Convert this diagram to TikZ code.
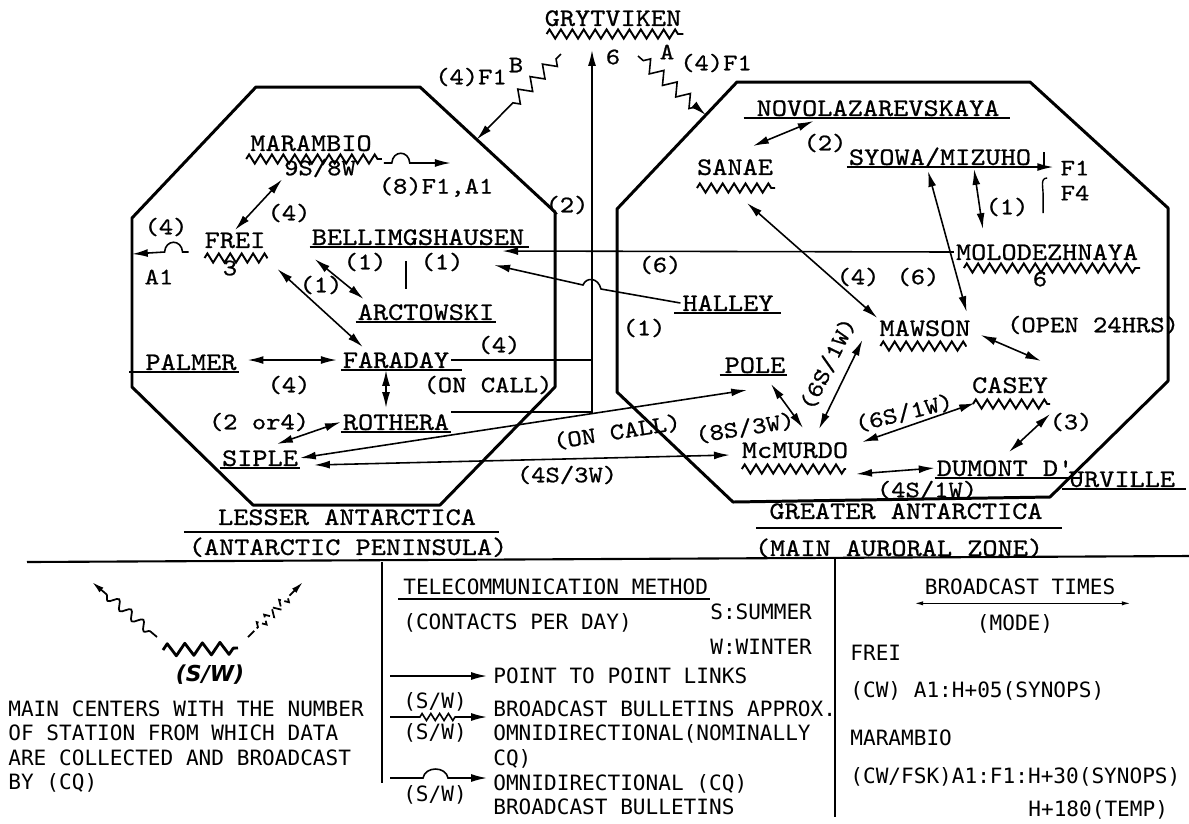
\documentclass[tikz,border=0pt]{standalone}
\usepackage{fontspec}
\setsansfont{DejaVu Sans}
\newfontfamily\typefont[FakeStretch=1.15,FakeBold=0.8]{lmmono10-regular.otf}
\newfontfamily\legfont{DejaVu Sans Mono}
\usetikzlibrary{calc,arrows.meta,decorations.pathmorphing}

\tikzset{
  station/.style={font=\typefont\fontsize{14.3}{16}\selectfont, inner sep=1pt, text height=9pt, text depth=0pt},
  lab/.style={font=\typefont\fontsize{13.5}{15}\selectfont, inner sep=1pt},
  legtext/.style={font=\legfont\fontsize{12}{14}\selectfont, inner sep=0pt, align=left},
  octa/.style={line width=1.7pt, line join=round},
  uline/.style={line width=0.8pt},
  link/.style={line width=0.9pt, -{Latex[length=9pt,width=4.5pt]}},
  dlink/.style={line width=0.9pt, {Latex[length=9pt,width=4.5pt]}-{Latex[length=9pt,width=4.5pt]}},
  zig/.style={line width=1.1pt, decorate, decoration={zigzag, segment length=6.5pt, amplitude=2.6pt}},
  bcast/.style={link, decorate, decoration={zigzag, segment length=10pt, amplitude=3.5pt, pre length=4pt, post length=28pt}},
}

\begin{document}
\begin{tikzpicture}[x=0.02cm, y=-0.02cm]
\useasboundingbox (0,0) rectangle (1189,823);

% the two regions
\coordinate (L1) at (256,87);  \coordinate (L2) at (420,87);
\coordinate (L3) at (555,212); \coordinate (L4) at (555,387);
\coordinate (L5) at (440,505); \coordinate (L6) at (253,505);
\coordinate (L7) at (132,387); \coordinate (L8) at (132,218);
\draw[octa] (L1) -- (L2) -- (L3) -- (L4) -- (L5) -- (L6) -- (L7) -- (L8) -- cycle;
\coordinate (R1) at (737,82);   \coordinate (R2) at (1030,82);
\coordinate (R3) at (1168,208); \coordinate (R4) at (1168,381);
\coordinate (R5) at (1050,497); \coordinate (R6) at (733,502);
\coordinate (R7) at (617,392);  \coordinate (R8) at (617,209);
\draw[octa] (R1) -- (R2) -- (R3) -- (R4) -- (R5) -- (R6) -- (R7) -- (R8) -- cycle;

% stations
\node[station] (gryt) at (613,18) {GRYTVIKEN};
\node[station] (mar) at (311,143) {MARAMBIO};
\node[lab] (marn) at (320,168) {9S/8W};
\node[station] (frei) at (235,240) {FREI};
\node[lab] (frein) at (230,268) {3};
\node[station] (bell) at (418,237) {BELLIMGSHAUSEN};
\node[station] (arct) at (426,312) {ARCTOWSKI};
\node[station] (palmer) at (191,362) {PALMER};
\node[station] (faraday) at (396,360) {FARADAY};
\node[station] (rothera) at (396,422) {ROTHERA};
\node[station] (siple) at (260,458) {SIPLE};
\node[station] (novo) at (878,108) {NOVOLAZAREVSKAYA};
\node[station] (sanae) at (735,167) {SANAE};
\node[station] (syowa) at (940,157) {SYOWA/MIZUHO};
\node[station] (molo) at (1047,252) {MOLODEZHNAYA};
\node[lab] (molon) at (1040,279) {6};
\node[station] (halley) at (728,303) {HALLEY};
\node[station] (mawson) at (925,328) {MAWSON};
\node[station] (pole) at (755,365) {POLE};
\node[station] (casey) at (1010,385) {CASEY};
\node[station] (mcmurdo) at (795,450) {McMURDO};
\node[station] (dumont) at (1005,468) {DUMONT D'};
\node[station] (urville) at (1122,479) {URVILLE};

% main centres
\draw[zig] ($(gryt.south west)+(4,6)$) -- ($(gryt.south east)+(0,6)$);
\draw[zig] ($(mar.south west)+(-2,6)$) -- ($(mar.south east)+(8,6)$);
\draw[zig] ($(frei.south west)+(2,8)$) -- ($(frei.south east)+(0,8)$);
\draw[zig] ($(sanae.south west)+(2,11)$) -- ($(sanae.south east)+(0,11)$);
\draw[zig] ($(molo.south west)+(10,6)$) -- ($(molo.south east)+(0,6)$);
\draw[zig] ($(mawson.south west)+(3,8)$) -- ($(mawson.south east)+(-6,8)$);
\draw[zig] ($(casey.south west)+(3,9)$) -- ($(casey.south east)+(0,9)$);
\draw[zig] ($(mcmurdo.south west)+(2,9)$) -- ($(mcmurdo.south east)+(-4,9)$);

% other stations
\draw[uline] (bell.south west) -- ($(bell.south east)+(3,0)$);
\draw[uline] (arct.south west) -- (arct.south east);
\draw[uline] ($(palmer.south west)+(-14,0)$) -- (palmer.south east);
\draw[uline] (faraday.south west) -- ($(faraday.south east)+(11,0)$);
\draw[uline] (rothera.south west) -- (rothera.south east);
\draw[uline] (siple.south west) -- (siple.south east);
\draw[line width=1.5pt] ($(novo.south west)+(-11,0)$) -- ($(novo.south east)+(9,0)$);
\draw[uline] ($(halley.south west)+(-6,0)$) -- ($(halley.south east)+(5,0)$);
\draw[uline] ($(pole.south west)+(-3,0)$) -- (pole.south east);
\draw[uline] (dumont.south west) -- ($(dumont.south east)+(6,0)$);
\draw[uline] ($(urville.south west)+(-5,0)$) -- ($(urville.south east)+(9,0)$);

% Grytviken broadcasts
\node[lab] (gryn) at (613,57) {6};
\draw[bcast] ($(gryt.south)+(-52,26)$) -- ($(L2)!0.42!(L3)$);
\draw[bcast, decoration={post length=6pt}] ($(gryt.south)+(25,28)$) -- ($(R1)!0.26!(R8)$);
\node[lab] (bmode) at (471,77) {(4)F1};
\node[lab] (bmark) at (516,65) {B};
\node[lab] (amark) at (667,52) {A};
\node[lab] (amode) at (716,63) {(4)F1};

% links to Grytviken
\coordinate (trunk) at (592,50);
\draw[link] (rothera.north east) -| (trunk);
\draw[line width=0.9pt] (faraday.east) -- (faraday.east -| trunk);
\node[lab] (trunkn) at (567,205) {(2)};
\node[lab] (farn) at (499,345) {(4)};
\node[lab] (oncall) at (488,385) {(ON CALL)};

% links to Bellingshausen
\draw[link] (molo.west) -- ($(bell.south east)+(-24,4)$);
\node[lab] (molon2) at (660,265) {(6)};
\draw[link] (halley.west) -- (601,289) .. controls (598,277) and (586,277) .. (583,285) -- ($(bell.south east)+(-32,18)$);
\node[lab] (halln) at (442,262) {(1)};
\node[lab] (belln) at (365,262) {(1)};
\draw[uline] ($(bell.south)+(-12,14)$) -- ++(0,28);
\node[lab] (halln2) at (644,328) {(1)};

% Lesser Antarctica
\draw[dlink] (marn.south west) -- (frei.north);
\node[lab] (marfn) at (289,213) {(4)};
\draw[link] ($(mar.east)+(10,20)$) -- ++(8,0) .. controls +(1,-13) and +(-1,-13) .. ++(18,0) -- ++(41,0);
\node[lab] (marbn) at (436,187) {(8)F1,A1};
\draw[link] ($(frei.west)+(-14,12)$) -- ++(-6,0) .. controls +(-1,-13) and +(1,-13) .. ++(-18,0) -- ($(L8)!0.213!(L7)$);
\node[lab] (freibn) at (166,227) {(4)};
\node[lab] (freimode) at (159,277) {A1};
\draw[dlink] ($(frei.south east)+(10,19)$) -- ($(faraday.north west)+(22,-3)$);
\draw[dlink] ($(bell.south west)+(5,12)$) -- ($(arct.north west)+(8,-3)$);
\node[lab] (arctn) at (321,285) {(1)};
\draw[dlink] ($(palmer.east)+(9,-2)$) -- ($(faraday.west)+(-4,0)$);
\node[lab] (palmn) at (289,385) {(4)};
\draw[dlink] ($(faraday.south)+(-10,0)$) -- ($(rothera.north)+(-10,-4)$);
\draw[dlink] (rothera.west) -- ($(siple.north)+(17,-4)$);
\node[lab] (rothn) at (259,422) {(2 or4)};

% Siple
\draw[dlink] (siple.east) -- ($(pole.south)+(-8,15)$);
\node[lab, rotate=9] (polecall) at (617,432) {(ON CALL)};
\draw[dlink] ($(siple.east)+(14,7)$) -- ($(mcmurdo.west)+(-10,5)$);
\node[lab] (siplen) at (567,475) {(4S/3W)};

% Greater Antarctica
\draw[dlink] ($(novo.south west)+(59,3)$) -- ($(sanae.north)+(18,-11)$);
\node[lab] (novon) at (825,143) {(2)};
\draw[link, line width=0.8pt] (syowa.south west) -- ($(syowa.south east)+(20,0)$);
\draw[uline] ($(syowa.south east)+(11,-15)$) -- ++(0,15);
\draw[uline] ($(syowa.south east)+(14,11)$) .. controls +(-7,0) and +(0,-8) .. ++(-4,17) -- ++(0,18);
\node[lab] (fone) at (1075,168) {F1};
\node[lab] (ffour) at (1075,193) {F4};
\draw[dlink] ($(syowa.south)+(34,2)$) -- ($(molo.north west)+(29,-13)$);
\node[lab] (syomn) at (1007,207) {(1)};
\draw[dlink] ($(sanae.south)+(12,26)$) -- (mawson.north west);
\node[lab] (sanaen) at (858,277) {(4)};
\draw[dlink] ($(syowa.south)+(-12,4)$) -- ($(mawson.north east)+(-6,-6)$);
\node[lab] (syowan) at (918,277) {(6)};
\node[lab] (openn) at (1093,325) {(OPEN 24HRS)};
\draw[dlink] ($(mawson.east)+(8,7)$) -- ($(casey.north east)+(-9,-14)$);
\draw[dlink] ($(mawson.west)+(-15,12)$) -- ($(mcmurdo.north)+(24,-11)$);
\node[lab, rotate=64] (mawn) at (828,364) {(6S/1W)};
\draw[dlink] ($(pole.south)+(16,9)$) -- ($(mcmurdo.north)+(8,-12)$);
\node[lab, rotate=9] (polen) at (745,428) {(8S/3W)};
\draw[dlink] ($(mcmurdo.east)+(12,-8)$) -- ($(casey.south west)+(5,8)$);
\node[lab, rotate=14] (caseyn) at (904,413) {(6S/1W)};
\draw[dlink] ($(casey.south east)+(0,19)$) -- ($(dumont.north)+(4,-6)$);
\node[lab] (dumn) at (1071,422) {(3)};
\draw[dlink] ($(mcmurdo.south east)+(6,14)$) -- (dumont.west);
\node[lab] (mcdn) at (927,490) {(4S/1W)};

% region names
\node[station] (lesser) at (347,517) {LESSER ANTARCTICA};
\draw[line width=1.1pt] ($(lesser.south west)+(-32,5)$) -- ($(lesser.south east)+(21,5)$);
\node[station] (penin) at (348,547) {(ANTARCTIC PENINSULA)};
\node[station] (greater) at (906,511) {GREATER ANTARCTICA};
\draw[line width=1.1pt] ($(greater.south west)+(-11,7)$) -- ($(greater.south east)+(17,7)$);
\node[station] (auroral) at (899,548) {(MAIN AURORAL ZONE)};

% key
\draw[line width=1.2pt] (27,562) -- (1189,556);
\draw[line width=1.2pt] (382,562) -- (382,783);
\draw[line width=1pt] (835,558) -- (835,817);

\node[font=\sffamily\bfseries\itshape\fontsize{12.5}{14}\selectfont, inner sep=1pt] (sw) at (210,675) {(S/W)};
\draw[line width=1.6pt, line join=round, decorate, decoration={zigzag, segment length=10pt, amplitude=3.5pt}] ($(sw)+(-47,-25)$) -- ($(sw)+(28,-27)$);
\draw[line width=1pt, decorate, decoration={snake, segment length=9pt, amplitude=2.5pt, pre length=5pt, post length=10pt}, -{Latex[length=7pt,width=3.5pt]}] ($(sw)+(-53,-38)$) -- ($(sw)+(-118,-93)$);
\draw[line width=1pt, dash pattern=on 5pt off 2pt, decorate, decoration={zigzag, segment length=6pt, amplitude=2.5pt, pre length=8pt, post length=10pt}, -{Latex[length=7pt,width=3.5pt]}] ($(sw)+(38,-38)$) -- ($(sw)+(93,-93)$);
\node[legtext, anchor=north west] (centers) at (8,700) {MAIN CENTERS WITH THE NUMBER\\OF STATION FROM WHICH DATA\\ARE COLLECTED AND BROADCAST\\BY (CQ)};

\node[legtext, anchor=west] (method) at (403,587) {TELECOMMUNICATION METHOD};
\draw[line width=1.3pt] ($(method.south west)+(-5,4)$) -- ($(method.south east)+(2,4)$);
\node[legtext, anchor=west] (contacts) at (403,623) {(CONTACTS PER DAY)};
\node[legtext, anchor=west] (summer) at (710,612) {S:SUMMER};
\node[legtext, anchor=west] (winter) at (710,647) {W:WINTER};
\node[legtext, anchor=west] (p2p) at (493,676) {POINT TO POINT LINKS};
\draw[link] ($(p2p.west)+(-103,0)$) -- ($(p2p.west)+(-6,0)$);
\node[legtext, anchor=north west] (bulletin) at (493,700) {BROADCAST BULLETINS APPROX.\\OMNIDIRECTIONAL(NOMINALLY\\CQ)};
\node[legtext] (bsw1) at (435,702) {(S/W)};
\draw[link, decorate, decoration={zigzag, segment length=5pt, amplitude=2pt, pre length=17pt, post length=17pt}] ($(bulletin.north west)+(-103,17)$) -- ($(bulletin.north west)+(-6,17)$);
\node[legtext] (bsw2) at (435,733) {(S/W)};
\node[legtext, anchor=north west] (omni) at (493,774) {OMNIDIRECTIONAL (CQ)\\BROADCAST BULLETINS};
\draw[link] ($(omni.north west)+(-103,4)$) -- ++(33,0) .. controls +(2,-12) and +(-2,-12) .. ++(25,0) -- ($(omni.north west)+(-6,4)$);
\node[legtext] (osw) at (435,795) {(S/W)};

\node[legtext] (btimes) at (1020,587) {BROADCAST TIMES};
\draw[line width=0.8pt, {Latex[length=5pt,width=2.5pt]}-{Latex[length=5pt,width=2.5pt]}] ($(btimes.south west)+(-10,8)$) -- ($(btimes.south east)+(15,8)$);
\node[legtext] (mode) at (1015,624) {(MODE)};
\node[legtext, anchor=west] (freit) at (850,653) {FREI};
\node[legtext, anchor=west] (freitime) at (850,691) {(CW) A1:H+05(SYNOPS)};
\node[legtext, anchor=west] (mart) at (850,738) {MARAMBIO};
\node[legtext, anchor=west] (martime) at (850,777) {(CW/FSK)A1:F1:H+30(SYNOPS)};
\node[legtext, anchor=west] (martemp) at (1028,810) {H+180(TEMP)};
\end{tikzpicture}
\end{document}
